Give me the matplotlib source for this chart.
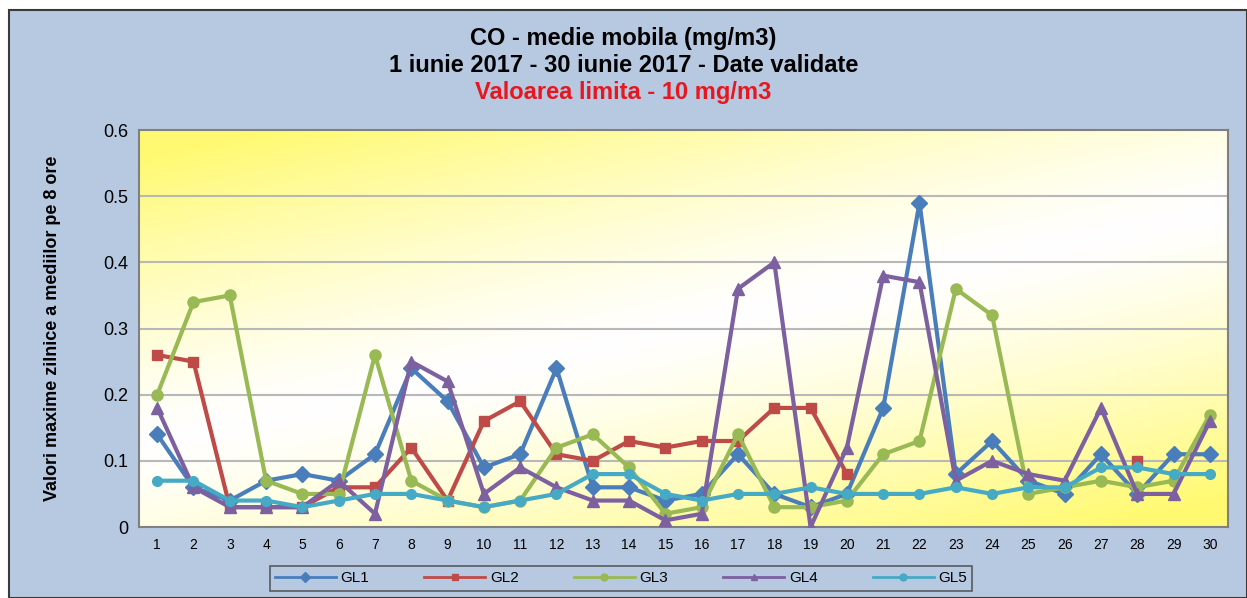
import numpy as np
import matplotlib
matplotlib.use("Agg")
import matplotlib.pyplot as plt
from matplotlib.lines import Line2D
from matplotlib.patches import Rectangle

nan = np.nan
days = list(range(1, 31))
gl1 = [0.14, 0.06, 0.04, 0.07, 0.08, 0.07, 0.11, 0.24, 0.19, 0.09, 0.11, 0.24, 0.06, 0.06, 0.04,
       0.05, 0.11, 0.05, 0.03, 0.05, 0.18, 0.49, 0.08, 0.13, 0.07, 0.05, 0.11, 0.05, 0.11, 0.11]
gl2 = [0.26, 0.25, 0.03, 0.03, 0.03, 0.06, 0.06, 0.12, 0.04, 0.16, 0.19, 0.11, 0.10, 0.13, 0.12,
       0.13, 0.13, 0.18, 0.18, 0.08, nan, nan, nan, nan, nan, nan, nan, 0.10, nan, nan]
gl3 = [0.20, 0.34, 0.35, 0.07, 0.05, 0.05, 0.26, 0.07, 0.04, 0.03, 0.04, 0.12, 0.14, 0.09, 0.02,
       0.03, 0.14, 0.03, 0.03, 0.04, 0.11, 0.13, 0.36, 0.32, 0.05, 0.06, 0.07, 0.06, 0.07, 0.17]
gl4 = [0.18, 0.06, 0.03, 0.03, 0.03, 0.07, 0.02, 0.25, 0.22, 0.05, 0.09, 0.06, 0.04, 0.04, 0.01,
       0.02, 0.36, 0.40, 0.00, 0.12, 0.38, 0.37, 0.07, 0.10, 0.08, 0.07, 0.18, 0.05, 0.05, 0.16]
gl5 = [0.07, 0.07, 0.04, 0.04, 0.03, 0.04, 0.05, 0.05, 0.04, 0.03, 0.04, 0.05, 0.08, 0.08, 0.05,
       0.04, 0.05, 0.05, 0.06, 0.05, 0.05, 0.05, 0.06, 0.05, 0.06, 0.06, 0.09, 0.09, 0.08, 0.08]
series_names = ["GL1", "GL2", "GL3", "GL4", "GL5"]
yticks = [0, 0.1, 0.2, 0.3, 0.4, 0.5, 0.6]
ytick_labels = ["0", "0.1", "0.2", "0.3", "0.4", "0.5", "0.6"]

colors = ["#4a7ebb", "#be4b48", "#98b954", "#7d60a0", "#46aac5"]
markers = ["D", "s", "o", "^", "o"]
msizes = [8, 7, 8, 8, 7]

plt.rcParams['font.family'] = ['Liberation Sans', 'DejaVu Sans']
bg = "#b7c9e1"
fig = plt.figure(figsize=(12.47, 5.98), dpi=100, facecolor="white")
fig.patches.append(Rectangle((0.007, 0.0), 0.993, 0.983, transform=fig.transFigure,
                             facecolor=bg, edgecolor="#3a3a3a", lw=1.5, zorder=-10))

ax = fig.add_axes([0.1115, 0.1187, 0.8733, 0.6639])
ax.set_facecolor("white")
# gradient background: yellow top-left and bottom-right, white in the middle
nx, ny = 200, 100
xx, yy = np.meshgrid(np.linspace(0, 1, nx), np.linspace(0, 1, ny))
d = (xx * 0.6 + yy * 1.0) / 1.6
w = np.clip(np.abs(d - 0.5) * 2.2, 0, 1) ** 1.3
yellow = np.array([1.0, 0.98, 0.45])
white = np.array([1.0, 1.0, 1.0])
img = white[None, None, :] * (1 - w[..., None]) + yellow[None, None, :] * w[..., None]
ax.imshow(img, extent=[0.5, 30.5, 0.0, 0.6], aspect="auto", zorder=0, origin="upper")

for v in yticks[1:-1]:
    ax.axhline(v, color="#b8b8b8", lw=1.5, zorder=1)

data = [gl1, gl2, gl3, gl4, gl5]
for name, vals, c, m, ms in zip(series_names, data, colors, markers, msizes):
    ax.plot(days, vals, color=c, lw=3, marker=m, markersize=ms, markerfacecolor=c,
            markeredgecolor=c, zorder=3, label=name)

ax.set_xlim(0.5, 30.5)
ax.set_ylim(0, 0.6)
ax.set_xticks(days)
ax.set_xticklabels([str(d_) for d_ in days], fontsize=10)
ax.set_yticks(yticks)
ax.set_yticklabels(ytick_labels, fontsize=13)
ax.tick_params(axis="both", length=0, pad=8)
for s in ax.spines.values():
    s.set_color("#808080")
    s.set_linewidth(1.5)
ax.set_ylabel("Valori maxime zilnice a mediilor pe 8 ore", fontsize=13, fontweight="bold",
              labelpad=30)

fig.text(0.5, 0.935, "CO - medie mobila (mg/m3)", ha="center", va="center",
         fontsize=17, fontweight="bold")
fig.text(0.5, 0.891, "1 iunie 2017 - 30 iunie 2017 - Date validate", ha="center", va="center",
         fontsize=17, fontweight="bold")
fig.text(0.5, 0.846, "Valoarea limita - 10 mg/m3", ha="center", va="center",
         fontsize=17, fontweight="bold", color="#e8161e")

handles = [Line2D([0], [0], color=c, lw=2, marker=m, markersize=5, markerfacecolor=c,
                  markeredgecolor=c) for c, m in zip(colors, markers)]
leg = fig.legend(handles, series_names, loc="center", bbox_to_anchor=(0.498, 0.033), ncol=5,
                 frameon=True, fancybox=False, fontsize=11, handlelength=4.0,
                 columnspacing=3.6, borderpad=0.35, handletextpad=0.3)
leg.get_frame().set_facecolor(bg)
leg.get_frame().set_edgecolor("#404040")
leg.get_frame().set_linewidth(1.2)

fig.savefig("out.png", dpi=100, facecolor=fig.get_facecolor())
